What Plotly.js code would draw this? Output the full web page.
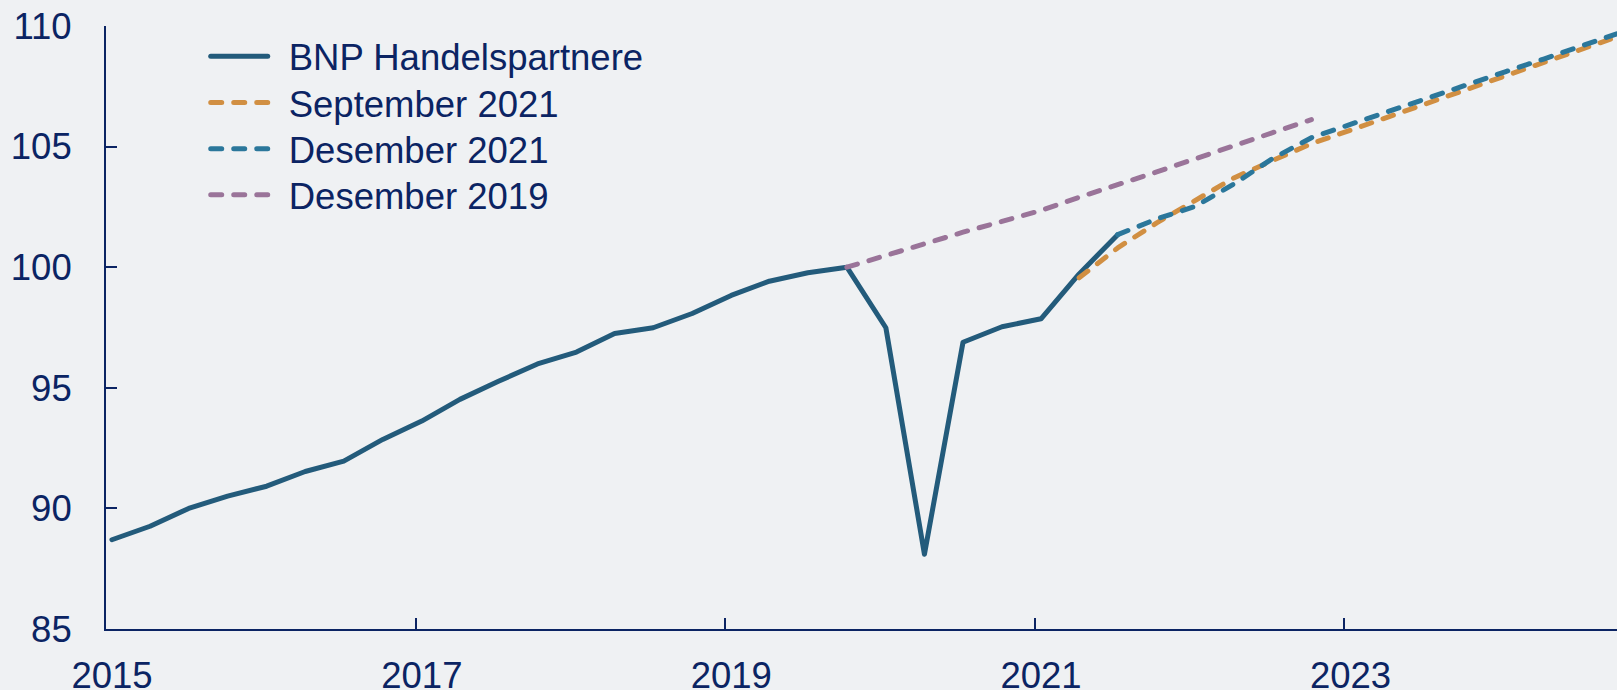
<!DOCTYPE html>
<html>
<head>
<meta charset="utf-8">
<script src="https://cdn.plot.ly/plotly-3.0.1.min.js"></script>
<style>
  html, body { margin: 0; padding: 0; background: #eff1f3; }
  #chart { width: 1617px; height: 690px; }
  .scatterlayer .js-line, .legendlines path { stroke-linecap: round; stroke-linejoin: round; }
</style>
</head>
<body>
<div id="chart"></div>
<script>
// quarterly observations, BNP handelspartnere (index, 2019Q4 = 100)
var bnpStart = [2015, 1];
var bnp = [88.7, 89.26, 90.0, 90.51, 90.92, 91.53, 91.96, 92.86, 93.62, 94.52,
           95.27, 95.99, 96.48, 97.25, 97.49, 98.08, 98.83, 99.42, 99.77, 100.0,
           97.49, 88.1, 96.89, 97.53, 97.86, 99.72, 101.35];

// forecast September 2021
var sep21Start = [2021, 2];
var sep21 = [99.56, 100.8, 101.84, 102.75, 103.7, 104.42, 105.12, 105.68,
             106.25, 106.8, 107.36, 107.93, 108.48, 109.04, 109.61];

// forecast Desember 2021
var des21Start = [2021, 3];
var des21 = [101.35, 102.0, 102.53, 103.45, 104.5, 105.37, 105.92, 106.47,
             107.0, 107.55, 108.1, 108.63, 109.19, 109.74];

// forecast Desember 2019
var des19Start = [2019, 4];
var des19 = [100.0, 100.5, 100.95, 101.45, 101.9, 102.35, 102.9, 103.4,
             103.95, 104.5, 105.05, 105.6, 106.12];

var yTicks = [85, 90, 95, 100, 105, 110];

var navy = '#0b2463';
var fontSize = 36.5;

function quarterDates(start, n) {
  var out = [];
  var y = start[0], q = start[1];
  for (var i = 0; i < n; i++) {
    var m = (q - 1) * 3 + 1;
    out.push(y + '-' + (m < 10 ? '0' + m : m) + '-15');
    q++;
    if (q > 4) { q = 1; y++; }
  }
  return out;
}

var trace1 = {
  x: quarterDates(bnpStart, bnp.length),
  y: bnp,
  name: 'BNP Handelspartnere',
  type: 'scatter',
  mode: 'lines',
  line: {color: '#235b7b', width: 5}
};

var trace2 = {
  x: quarterDates(sep21Start, sep21.length),
  y: sep21,
  name: 'September 2021',
  type: 'scatter',
  mode: 'lines',
  line: {color: '#d18f42', width: 5, dash: '11px,12px'}
};

var trace3 = {
  x: quarterDates(des21Start, des21.length),
  y: des21,
  name: 'Desember 2021',
  type: 'scatter',
  mode: 'lines',
  line: {color: '#2b779b', width: 5, dash: '11px,12px'}
};

var trace4 = {
  x: quarterDates(des19Start, des19.length),
  y: des19,
  name: 'Desember 2019',
  type: 'scatter',
  mode: 'lines',
  line: {color: '#9a7499', width: 5, dash: '11px,12px'}
};

var data = [trace1, trace2, trace3, trace4];

var layout = {
  width: 1617,
  height: 690,
  paper_bgcolor: '#eff1f3',
  plot_bgcolor: '#eff1f3',
  font: {family: 'Arial, "Liberation Sans", sans-serif', size: fontSize, color: navy},
  margin: {l: 106, r: 0, t: 26, b: 61, pad: 0},
  showlegend: true,
  legend: {
    x: 0.066,
    xanchor: 'left',
    y: 1.0,
    yanchor: 'top',
    bgcolor: 'rgba(0,0,0,0)',
    font: {size: fontSize, color: navy},
    itemwidth: 57,
    tracegroupgap: 0
  },
  xaxis: {
    type: 'date',
    range: ['2015-01-01', '2024-10-05'],
    tick0: '2015-01-01',
    dtick: 'M24',
    tickformat: '%Y',
    ticks: 'inside',
    ticklen: 11,
    tickwidth: 2,
    tickcolor: navy,
    showline: true,
    linecolor: navy,
    linewidth: 2,
    showgrid: false,
    zeroline: false,
    ticklabelstandoff: 13,
    ticklabelshift: 6,
    tickfont: {size: fontSize, color: navy}
  },
  yaxis: {
    range: [85, 110],
    tickvals: yTicks,
    ticks: 'inside',
    ticklen: 11,
    tickwidth: 2,
    tickcolor: navy,
    showline: true,
    linecolor: navy,
    linewidth: 2,
    showgrid: false,
    zeroline: false,
    ticklabelstandoff: 25,
    tickfont: {size: fontSize, color: navy}
  }
};

var config = {staticPlot: true};

Plotly.newPlot('chart', data, layout, config).then(function (gd) {
  // tighten legend rows and widen gap between symbol and text
  var rowGap = 46.2;
  var textShift = 16;
  gd.querySelectorAll('.legend [clip-path]').forEach(function (el) {
    el.removeAttribute('clip-path');
  });
  var items = gd.querySelectorAll('.legend .traces');
  var y0 = null;
  items.forEach(function (g, i) {
    var m = /translate\(\s*([-\d.]+)[ ,]+([-\d.]+)\s*\)/.exec(g.getAttribute('transform') || '');
    var x = m ? parseFloat(m[1]) : 0;
    var y = m ? parseFloat(m[2]) : 0;
    if (y0 === null) y0 = y;
    g.setAttribute('transform', 'translate(' + x + ',' + (y0 + i * rowGap) + ')');
    var t = g.querySelector('.legendtext');
    if (t) t.setAttribute('x', parseFloat(t.getAttribute('x') || 0) + textShift);
  });
});
</script>
</body>
</html>
